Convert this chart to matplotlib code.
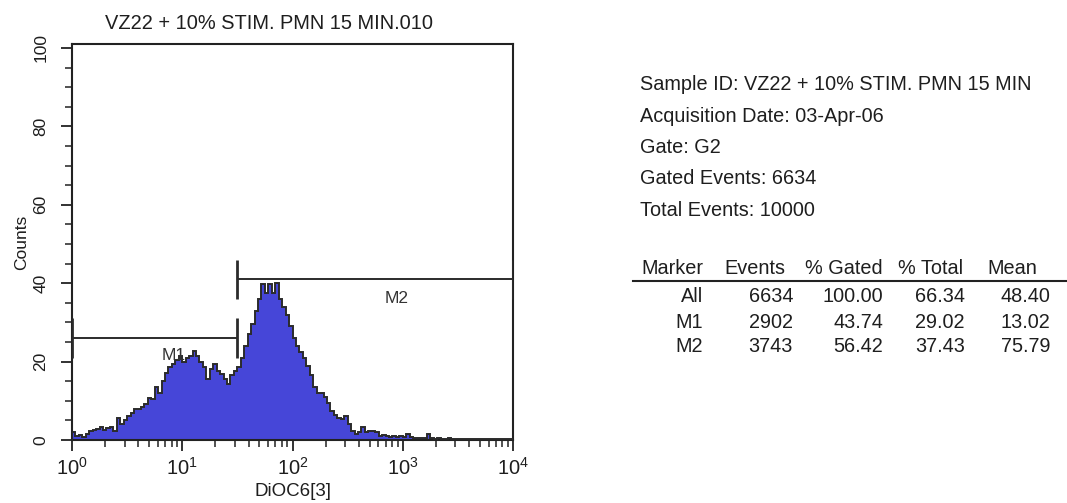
"""
DiOC6[3] histogram with marker statistics panel
===============================================
Flow cytometry single-parameter histogram (log scale, 4 decades) with
marker bars M1 / M2 and the acquisition summary on the right.
"""

import numpy as np
import matplotlib
matplotlib.use("Agg")  # headless
import matplotlib.pyplot as plt
import matplotlib.ticker as mticker

plt.rcParams["font.family"] = ["Liberation Sans", "DejaVu Sans"]
plt.rcParams["mathtext.fontset"] = "custom"
plt.rcParams["mathtext.rm"] = "Liberation Sans"
plt.rcParams["mathtext.it"] = "Liberation Sans"

# ── data ──

TITLE = "VZ22 + 10% STIM. PMN 15 MIN.010"
X_LABEL = "DiOC6[3]"
Y_LABEL = "Counts"

# counts per channel, 32 channels per decade from 10^0 to 10^4
COUNTS = [
    2.0, 1.0, 1.2, 0.7, 1.5, 2.4, 2.6, 2.8, 3.2, 2.6,
    3.0, 3.2, 2.4, 5.5, 4.0, 5.0, 6.2, 7.0, 8.0, 7.8,
    8.5, 9.2, 10.8, 10.5, 13.5, 12.0, 15.0, 17.0, 18.5, 19.5,
    20.5, 21.5, 20.0, 20.8, 21.5, 22.8, 21.5, 19.8, 18.5, 15.5,
    18.0, 19.3, 17.6, 16.8, 15.5, 14.2, 16.5, 17.5, 18.5, 21.0,
    24.0, 27.0, 29.5, 33.0, 36.0, 39.7, 37.5, 39.7, 37.5, 40.0,
    36.0, 34.0, 32.0, 29.0, 26.0, 24.0, 22.5, 21.0, 19.0, 16.5,
    13.5, 12.0, 12.0, 11.0, 9.5, 7.5, 6.5, 5.5, 5.3, 6.2,
    4.0, 2.4, 1.5, 2.0, 3.2, 2.0, 2.4, 2.2, 2.0, 1.1,
    1.2, 1.0, 0.8, 1.0, 0.8, 1.0, 0.8, 1.5, 0.8, 0.5,
    0.5, 0.4, 0.5, 1.5, 0.4, 0.3, 0.4, 0.3, 0.3, 0.4,
    0.3, 0.3, 0.2, 0.3, 0.3, 0.2, 0.3, 0.2, 0.3, 0.2,
    0.2, 0.3, 0.2, 0.2, 0.3, 0.2, 0.2, 0.3,
]
DECADES = 4

# marker gates
MARKER_NAMES = ["M1", "M2"]
MARKER_LOW = [1.0, 31.6]
MARKER_HIGH = [31.6, 10000.0]
MARKER_LEVEL = [26.0, 41.0]
MARKER_LABEL_X = [8.3, 880.0]
MARKER_LABEL_Y = [21.5, 36.0]

INFO_LINES = [
    "Sample ID: VZ22 + 10% STIM. PMN 15 MIN",
    "Acquisition Date: 03-Apr-06",
    "Gate: G2",
    "Gated Events: 6634",
    "Total Events: 10000",
]

TABLE_HEADER = ["Marker", "Events", "% Gated", "% Total", "Mean"]
TABLE_ROWS = [
    ["All", "6634", "100.00", "66.34", "48.40"],
    ["M1", "2902", "43.74", "29.02", "13.02"],
    ["M2", "3743", "56.42", "37.43", "75.79"],
]

# ── style ──
W, H = 1067, 503
FILL = "#4646d8"
EDGE = "#2b2b2b"
TXT = "#1e1e1e"


def px_x(x):
    return x / W


def px_y(y):
    return 1 - y / H


fig = plt.figure(figsize=(W / 100, H / 100), dpi=100)
fig.patch.set_facecolor("white")

ax = fig.add_axes([px_x(72), px_y(440), (513 - 72) / W, (440 - 44) / H])

edges = np.logspace(0, DECADES, len(COUNTS) + 1)
ax.stairs(COUNTS, edges, fill=True, color=FILL, zorder=2)
ax.stairs(COUNTS, edges, color=EDGE, linewidth=1.4, zorder=3)

# marker bars with end caps
for name, lo, hi, lev, lx, ly in zip(MARKER_NAMES, MARKER_LOW, MARKER_HIGH,
                                     MARKER_LEVEL, MARKER_LABEL_X, MARKER_LABEL_Y):
    ax.hlines(lev, lo, hi, color=EDGE, linewidth=1.4, zorder=4)
    ax.vlines([lo, hi], lev - 5, lev + 5, color=EDGE, linewidth=2.0, zorder=4)
    ax.text(lx, ly, name, ha="center", va="center", fontsize=12.5,
            color="#333333", zorder=5)

ax.set_xscale("log")
ax.set_xlim(1, 10 ** DECADES)
ax.set_ylim(0, 101)

ax.xaxis.set_major_locator(mticker.LogLocator(base=10, numticks=10))
ax.xaxis.set_minor_locator(mticker.LogLocator(base=10, subs=np.arange(2, 10), numticks=20))
ax.xaxis.set_major_formatter(mticker.FuncFormatter(lambda v, _: rf"$10^{{{int(round(np.log10(v)))}}}$"))
ax.xaxis.set_minor_formatter(mticker.NullFormatter())
ax.yaxis.set_major_locator(mticker.MultipleLocator(20))
ax.yaxis.set_minor_locator(mticker.MultipleLocator(5))

ax.tick_params(which="major", direction="out", length=8, width=1.3, color="#222222")
ax.tick_params(which="minor", direction="out", length=5, width=1.1, color="#222222")
ax.tick_params(axis="x", labelsize=14.5, pad=4, labelcolor=TXT)
ax.tick_params(axis="y", labelsize=12.5, pad=9, labelcolor=TXT)
for lab in ax.get_yticklabels():
    lab.set_rotation(90)
    lab.set_va("center")

for sp in ax.spines.values():
    sp.set_linewidth(1.5)
    sp.set_color("#222222")

# title sits left of the axes centre in the original printout
ax.text(0.447, 1.027, TITLE, transform=ax.transAxes, ha="center", va="bottom",
        fontsize=14.4, color=TXT)
ax.set_xlabel(X_LABEL, fontsize=13.5, color=TXT, labelpad=3)
ax.set_ylabel(Y_LABEL, fontsize=12.5, color=TXT, labelpad=3)

# ── right-hand summary ──
info_y = [85, 116, 147, 179, 210]
for y, line in zip(info_y, INFO_LINES):
    fig.text(px_x(640), px_y(y), line, ha="left", va="center", fontsize=14.3, color=TXT)

col_right = [703, 785, 883, 963, 1037]
row_right = [703, 793, 883, 965, 1050]
for xr, head in zip(col_right, TABLE_HEADER):
    fig.text(px_x(xr), px_y(269), head, ha="right", va="center", fontsize=14.3, color=TXT)

fig.add_artist(plt.Line2D([px_x(633), 1.0], [px_y(281), px_y(281)],
                          color="#222222", linewidth=1.5))

for y, row in zip([297, 322, 347], TABLE_ROWS):
    for xr, cell in zip(row_right, row):
        fig.text(px_x(xr), px_y(y), cell, ha="right", va="center", fontsize=14.3, color=TXT)

fig.savefig("out.png", dpi=100, facecolor="white")
plt.close(fig)
